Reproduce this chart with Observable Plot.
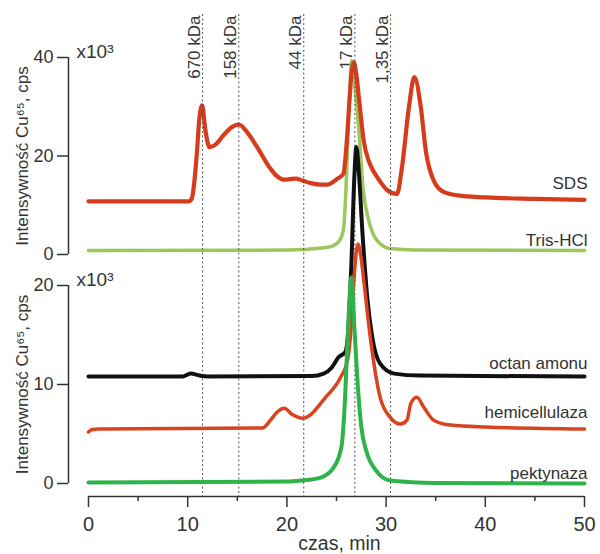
<!DOCTYPE html>
<html><head><meta charset="utf-8">
<script src="https://cdn.jsdelivr.net/npm/d3@7"></script>
<script src="https://cdn.jsdelivr.net/npm/@observablehq/plot@0.6"></script>
<style>
body{margin:0;background:#fff;}
#chart{position:relative;width:600px;height:554px;background:#fff;}
#chart svg{position:absolute !important;left:0;top:0;overflow:visible !important;background:transparent !important;}
</style></head><body><div id="chart"></div>
<script>
// ---- data (time in min, intensity in x10^3 cps) ----
const sdsData = [[0,10.8],[10.1,10.8],[10.4,11.3],[10.6,13.5],[10.9,20],[11.2,28],[11.45,30.3],[11.8,25],[12.2,21.8],[12.8,22.3],[13.6,24.2],[14.4,25.8],[15.15,26.4],[16.0,24.8],[17.0,21.8],[18.35,17.4],[19.0,15.9],[19.7,15.2],[20.3,15.3],[20.9,15.4],[21.6,15.0],[22.4,14.5],[23.4,14.2],[24.1,14.2],[25.1,15.4],[25.7,16.4],[26.0,22],[26.3,31],[26.55,37.5],[26.75,39.0],[27.0,36.5],[27.3,31],[27.75,23],[28.25,19],[28.7,17],[29.1,15.7],[30.1,13.1],[31.1,12.3],[31.6,17.7],[32.3,29.9],[32.85,36],[33.5,29.9],[34.0,21.1],[34.8,15],[35.8,12.7],[37.2,12.0],[40,11.6],[45,11.3],[50,11.1]];
const trisData = [[0,0.8],[20,0.9],[23.5,1.3],[24.7,1.8],[25.3,2.8],[25.7,5],[25.95,13],[26.2,26.6],[26.55,39.4],[26.9,33],[27.2,26.6],[27.7,13],[28.25,6.9],[29.1,2.8],[30.4,1.2],[33,0.9],[50,0.8]];
const octanData = [[0,10.8],[9.5,10.8],[10.3,11.1],[11.2,10.9],[12,10.8],[22.5,10.85],[23.7,11.1],[24.55,11.75],[25.2,12.75],[25.9,13.3],[26.15,15],[26.5,22.2],[26.8,31],[27.0,34],[27.25,31.5],[27.6,25.6],[28.1,18.8],[28.6,14.8],[29.4,12.1],[30.8,11.1],[33.5,10.9],[50,10.8]];
const hemiData = [[0,5.2],[0.4,5.45],[1,5.5],[17.5,5.6],[18.35,6.4],[19.0,7.2],[19.75,7.6],[20.5,7.0],[21.65,6.6],[23.9,8.7],[25.4,10.7],[26.1,12.4],[26.4,14.8],[26.75,20.5],[27.15,24.2],[27.45,23],[27.75,20.5],[28.4,14.8],[29.4,8.7],[30.4,6.7],[31.45,6.0],[32.1,6.4],[32.5,8.1],[33.1,8.7],[33.8,7.7],[34.8,6.4],[36.5,5.9],[40,5.7],[50,5.5]];
const pektData = [[0,0.1],[20,0.2],[21.4,0.3],[23.4,0.6],[24.7,1.6],[25.5,3.7],[25.8,7.4],[26.1,14.1],[26.5,20.8],[26.8,15.8],[27.2,9.1],[27.5,5.7],[28.0,3.3],[29.0,1.3],[30.4,0.3],[35,0.05],[50,0]];

const kdaTime = [11.5, 15.15, 21.7, 26.85, 30.45];
const kdaLabel = ["670 kDa", "158 kDa", "44 kDa", "17 kDa", "1,35 kDa"];

const topNames = ["SDS", "Tris-HCl"];
const topLabelY = [13.4, 1.8];
const bottomNames = ["octan amonu", "hemicellulaza", "pektynaza"];
const bottomLabelY = [11.6, 6.6, 0.5];

const topTicks = [0, 20, 40];
const bottomTicks = [0, 10, 20];
const xTicks = [0, 10, 20, 30, 40, 50];
const xMinorTicks = [5, 15, 25, 35, 45];
const yLabel = "Intensywność Cu⁶⁵, cps";
const multLabel = "x10³";
const xLabel = "czas, min";

const colors = {sds: "#d63c1c", tris: "#9ac85a", octan: "#111111", hemi: "#d9431f", pekt: "#2db34a"};

const toRows = (arr) => arr.map(([t, v]) => ({t, v}));
const FONT = "'Liberation Sans', Arial, Helvetica, sans-serif";
const X = {domain: [0, 50], range: [88, 584]};
const common = {width: 600, height: 554, marginLeft: 68, marginRight: 16, marginBottom: 58,
  style: {fontFamily: FONT, fontSize: "17px", background: "transparent", overflow: "visible", color: "#333"}};

const topPlot = Plot.plot({
  ...common,
  marginTop: 15,
  x: {...X, axis: null},
  y: {domain: [0, 40], range: [254, 57], axis: null},
  marks: [
    Plot.axisY({ticks: topTicks, tickSize: 11, tickPadding: 4, fontSize: 18, label: null, color: "#333", strokeWidth: 1.5}),
    Plot.ruleX([0], {y1: topTicks[0], y2: topTicks[2], dx: -20, stroke: "#333", strokeWidth: 1.5}),
    Plot.text([multLabel], {y: topTicks[2], frameAnchor: "left", dx: 8, textAnchor: "start", lineAnchor: "bottom", fontSize: 19, fill: "#333"}),
    Plot.text([yLabel], {y: topTicks[1], frameAnchor: "left", dx: -46, rotate: -90, textAnchor: "middle", lineAnchor: "middle", fontSize: 17, fill: "#333"}),
    Plot.text(kdaLabel, {x: kdaTime, frameAnchor: "top", rotate: -90, textAnchor: "end", lineAnchor: "bottom", dx: -3, fontSize: 17, fill: "#333"}),
    Plot.line(toRows(trisData), {x: "t", y: "v", stroke: colors.tris, strokeWidth: 3.5, curve: "monotone-x"}),
    Plot.line(toRows(sdsData), {x: "t", y: "v", stroke: colors.sds, strokeWidth: 4.2, curve: "monotone-x"}),
    Plot.text(topNames, {x: 50, y: topLabelY, textAnchor: "end", lineAnchor: "bottom", dx: 3, fontSize: 17, fill: "#333"})
  ]
});

const bottomPlot = Plot.plot({
  ...common,
  marginTop: 14,
  x: {...X},
  y: {domain: [0, 20], range: [483, 285]},
  marks: [
    Plot.ruleX(kdaTime, {stroke: "#555", strokeWidth: 1, strokeDasharray: "2,2.5"}),
    Plot.axisY({ticks: bottomTicks, tickSize: 11, tickPadding: 4, fontSize: 18, label: null, color: "#333", strokeWidth: 1.5}),
    Plot.ruleX([0], {y1: bottomTicks[0], y2: bottomTicks[2], dx: -20, stroke: "#333", strokeWidth: 1.5}),
    Plot.axisX({ticks: xTicks, tickSize: 11, tickPadding: 9, fontSize: 20, label: null, color: "#333", strokeWidth: 1.5}),
    Plot.axisX({ticks: xMinorTicks, tickSize: 5, tickFormat: () => "", label: null, color: "#333", strokeWidth: 1.5}),
    Plot.ruleY([0], {x1: X.domain[0], x2: X.domain[1], dy: 13, stroke: "#333", strokeWidth: 1.5}),
    Plot.text([multLabel], {y: bottomTicks[2], frameAnchor: "left", dx: 8, textAnchor: "start", lineAnchor: "bottom", fontSize: 19, fill: "#333"}),
    Plot.text([yLabel], {y: bottomTicks[1], frameAnchor: "left", dx: -46, rotate: -90, textAnchor: "middle", lineAnchor: "middle", fontSize: 17, fill: "#333"}),
    Plot.text([xLabel], {x: 25, frameAnchor: "bottom", dx: 3, dy: 53, textAnchor: "middle", lineAnchor: "bottom", fontSize: 19.5, fill: "#333"}),
    Plot.line(toRows(octanData), {x: "t", y: "v", stroke: colors.octan, strokeWidth: 4, curve: "monotone-x"}),
    Plot.line(toRows(hemiData), {x: "t", y: "v", stroke: colors.hemi, strokeWidth: 3.5, curve: "monotone-x"}),
    Plot.line(toRows(pektData), {x: "t", y: "v", stroke: colors.pekt, strokeWidth: 4, curve: "monotone-x"}),
    Plot.text(bottomNames, {x: 50, y: bottomLabelY, textAnchor: "end", lineAnchor: "bottom", dx: 3, fontSize: 17, fill: "#333"})
  ]
});

const chart = document.getElementById("chart");
chart.appendChild(topPlot);
chart.appendChild(bottomPlot);
</script></body></html>
